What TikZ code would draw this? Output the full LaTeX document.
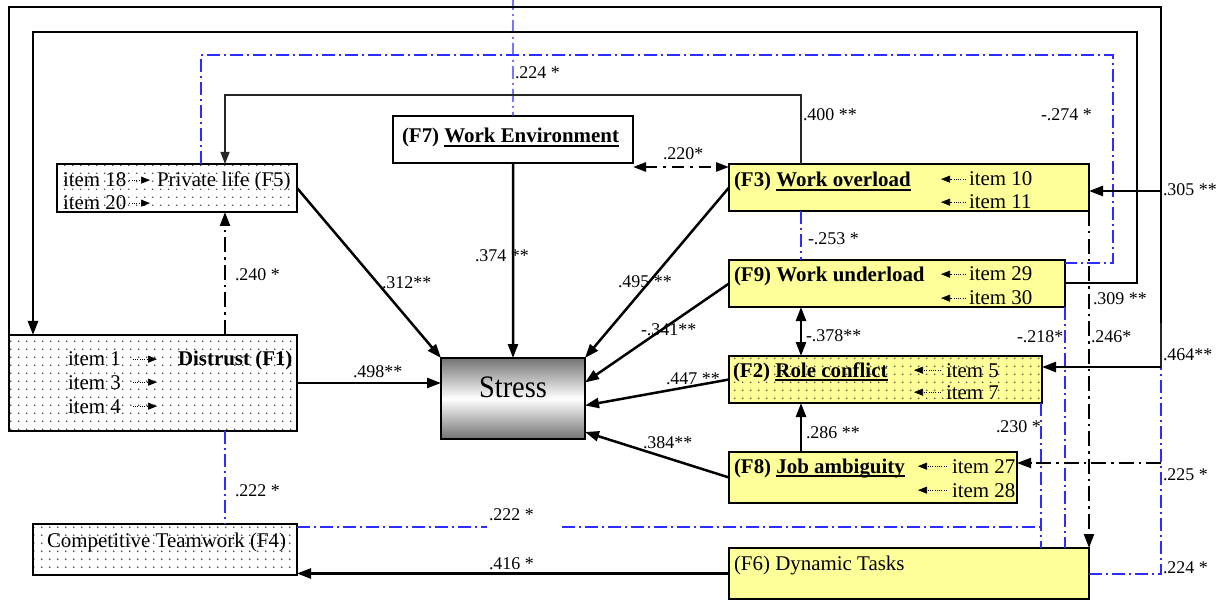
\documentclass[tikz,border=0pt]{standalone}
\usepackage{fontspec}
\usepackage{graphicx}
\setmainfont{Liberation Serif}
\usetikzlibrary{arrows.meta,patterns}
\definecolor{boxyellow}{RGB}{255,255,153}
\definecolor{linkblue}{RGB}{45,45,255}
% sparse dot texture for the shaded factor boxes
\pgfdeclarepatternformonly{sparsedots}{\pgfpointorigin}{\pgfpoint{7.7bp}{7.7bp}}{\pgfpoint{7.7bp}{7.7bp}}{%
  \pgfpathcircle{\pgfpoint{3.85bp}{3.85bp}}{0.85bp}\pgfusepath{fill}}
% underline drawn as a rule a little below the baseline
\newcommand\ulbar[1]{\setbox0\hbox{#1}\rlap{\rule[-4bp]{\wd0}{1.8bp}}\box0}
\tikzset{
  every node/.style={inner sep=0pt, outer sep=0pt},
  box/.style={draw=black, line width=2bp, anchor=north west},
  ybox/.style={box, fill=boxyellow},
  wbox/.style={box, fill=white},
  dotbox/.style={box, pattern=sparsedots, pattern color=black!75},
  ydotbox/.style={box, preaction={fill=boxyellow}, pattern=sparsedots, pattern color=black!75},
  txt/.style={anchor=base west, font=\fontsize{21}{21}\selectfont},
  btxt/.style={anchor=base west, font=\fontsize{21}{21}\selectfont\bfseries},
  lab/.style={anchor=base west, font=\fontsize{18}{18}\selectfont},
  solidlink/.style={draw=black, line width=2.5bp},
  thinlink/.style={draw=black!85, line width=1.1bp},
  blackdd/.style={draw=black, line width=2.2bp, dash pattern=on 15bp off 5bp on 2.5bp off 5bp},
  bluedd/.style={draw=linkblue, line width=1.3bp, dash pattern=on 13bp off 4bp on 2bp off 4bp},
  itemarrow/.style={draw=black, line width=0.7bp, dash pattern=on 1bp off 1.3bp, -{Triangle[length=9bp,width=7bp]}},
  >={Triangle[length=14bp,width=10bp]},
}
\begin{document}
\begin{tikzpicture}[x=1bp,y=-1bp]
\useasboundingbox (0,0) rectangle (1226,602);

% ---- factor boxes ----
\node[dotbox, minimum width=240bp, minimum height=48bp] (f5) at (57,164) {};
\node[dotbox, minimum width=288bp, minimum height=96bp] (f1) at (9,335) {};
\node[dotbox, minimum width=264bp, minimum height=51bp] (f4) at (33,524) {};
\node[wbox, minimum width=240bp, minimum height=47bp] (f7) at (393,116) {};
\node[box, minimum width=144bp, minimum height=81bp, top color=black!55, bottom color=black!55, middle color=white] (stress) at (441,358) {};
\node[ybox, minimum width=360bp, minimum height=47bp] (f3) at (729,164) {};
\node[ybox, minimum width=336bp, minimum height=47bp] (f9) at (729,260) {};
\node[ydotbox, minimum width=313bp, minimum height=47bp] (f2) at (729,356) {};
\node[ybox, minimum width=288bp, minimum height=51bp] (f8) at (729,452) {};
\node[ybox, minimum width=360bp, minimum height=51bp] (f6) at (729,548) {};

% ---- box texts ----
\node[txt] (i18) at (63,187) {item 18};
\node[txt] (p5) at (157,187) {Private life (F5)};
\node[txt] (i20) at (63,210) {item 20};

\node[txt] (i1) at (68,366) {item 1};
\node[btxt] (dist) at (178,366) {Distrust (F1)};
\node[txt] (i3) at (68,389) {item 3};
\node[txt] (i4) at (68,413) {item 4};

\node[txt] (t4) at (47,547) {Competitive Teamwork (F4)};
\node[btxt] (t7) at (402,143) {(F7) \ulbar{Work Environment}};
\node[anchor=base] (stresslbl) at (513,397) {\scalebox{1}[1.1]{\fontsize{28.5}{28.5}\selectfont Stress}};

\node[btxt] (t3) at (734,187) {(F3) \ulbar{Work overload}};
\node[txt] (i10) at (969,186) {item 10};
\node[txt] (i11) at (969,209) {item 11};

\node[btxt] (t9) at (734,282) {(F9) Work underload};
\node[txt] (i29) at (969,281) {item 29};
\node[txt] (i30) at (969,305) {item 30};

\node[btxt] (t2) at (733,377) {(F2) \ulbar{Role conflict}};
\node[txt] (i5) at (946,377) {item 5};
\node[txt] (i7) at (946,399) {item 7};

\node[btxt] (t8) at (734,473) {(F8) \ulbar{Job ambiguity}};
\node[txt] (i27) at (952,473) {item 27};
\node[txt] (i28) at (952,497) {item 28};

\node[txt] (t6) at (734,570) {(F6) Dynamic Tasks};

% ---- indicator arrows ----
\coordinate (k5) at (150,0);
\coordinate (k1) at (157,0);
\coordinate (k3) at (941,0);
\coordinate (k2) at (914,0);
\coordinate (k8) at (918,0);
\draw[itemarrow, shorten <=3bp] (i18.east) -- (i18.east -| k5);
\draw[itemarrow, shorten <=3bp] (i20.east) -- (i20.east -| k5);
\draw[itemarrow, shorten <=12bp] (i1.east) -- (i1.east -| k1);
\draw[itemarrow, shorten <=12bp] (i3.east) -- (i3.east -| k1);
\draw[itemarrow, shorten <=12bp] (i4.east) -- (i4.east -| k1);
\draw[itemarrow, shorten <=3bp] (i10.west) -- (i10.west -| k3);
\draw[itemarrow, shorten <=3bp] (i11.west) -- (i11.west -| k3);
\draw[itemarrow, shorten <=3bp] (i29.west) -- (i29.west -| k3);
\draw[itemarrow, shorten <=3bp] (i30.west) -- (i30.west -| k3);
\draw[itemarrow, shorten <=5bp] (i5.west) -- (i5.west -| k2);
\draw[itemarrow, shorten <=5bp] (i7.west) -- (i7.west -| k2);
\draw[itemarrow, shorten <=5bp] (i27.west) -- (i27.west -| k8);
\draw[itemarrow, shorten <=5bp] (i28.west) -- (i28.west -| k8);

% ---- lane coordinates ----
\coordinate (c801) at (801,95);
\coordinate (c225) at (225,95);
\coordinate (b1) at (201,55);
\coordinate (b2) at (1113,55);
\coordinate (b3) at (1113,263);
\coordinate (b4) at (1161,574);
\coordinate (b5) at (1161,7);
\coordinate (b5a) at (513,7);
\coordinate (b6) at (513,-3);
\coordinate (b7) at (487,527);
\coordinate (b8) at (562,527);
\coordinate (b9) at (1041,527);
\coordinate (o1) at (9,7);
\coordinate (o2) at (1161,7);
\coordinate (o3) at (1161,323);
\coordinate (o4) at (1161,367);
\coordinate (o5) at (1161,191);
\coordinate (s1) at (1137,283);
\coordinate (s2) at (1137,32);
\coordinate (s3) at (33,32);
\coordinate (d1) at (1161,463);
\coordinate (e1) at ([yshift=-4bp]f7.south east);

% ---- correlations (blue dash-dot) ----
\draw[bluedd] (f5.north -| b1) -- (b1) -- (b2) -- (b3) -- (b3 -| f9.east);
\draw[bluedd] (f6.east |- b4) -- (b4) -- (b5) -- (b5a);
\draw[bluedd] (b6) -- (f7.north);
\draw[bluedd] (f3.south -| c801) -- (f9.north -| c801);
\draw[bluedd] (f1.south -| c225) -- (f4.north -| c225);
\draw[bluedd] (f4.east |- b7) -- (b7);
\draw[bluedd] (b8) -- (b9);
\draw[bluedd] (f2.south -| b9) -- (f6.north -| b9);
\draw[bluedd] (f9.south east) -- (f9.south east |- f6.north);

% ---- paths ----
\draw[solidlink] (f1.north west) -- (o1) -- (o2) -- (o3);
\draw[thinlink] (o3) -- (o4);
\draw[solidlink, ->] (o4) -- (o4 -| f2.east);
\draw[solidlink, ->] (o5) -- (o5 -| f3.east);
\draw[solidlink, ->] (f9.east |- s1) -- (s1) -- (s2) -- (s3) -- (f1.north -| s3);
\draw[thinlink, -{Triangle[length=12bp,width=9bp]}] (f3.north -| c801) -- (c801) -- (c225) -- (f5.north -| c225);
\draw[blackdd, ->] (f1.north -| c225) -- (f5.south -| c225);
\draw[blackdd, ->] (f3.south east) -- (f6.north east);
\draw[blackdd, line width=2bp, ->] (d1) -- (d1 -| f8.east);
\draw[blackdd, line width=2.5bp, dash pattern=on 12bp off 6bp on 3bp off 6bp, {Triangle[length=13bp,width=9bp]}-{Triangle[length=13bp,width=9bp]}] (e1) -- (e1 -| f3.west);

\draw[solidlink, ->] (f5.east) -- (stress.north west);
\draw[solidlink, ->] (f1.east) -- (f1.east -| stress.west);
\draw[solidlink, ->] (f7.south) -- (stress.north);
\draw[solidlink, ->] (f3.west) -- (stress.north east);
\draw[solidlink, ->] (f9.west) -- ([yshift=16bp]stress.east);
\draw[solidlink, ->] (f2.west) -- ([yshift=-7bp]stress.east);
\draw[solidlink, ->] (f8.west) -- ([yshift=7bp]stress.south east);
\draw[solidlink, <->] (f9.south -| c801) -- (f2.north -| c801);
\draw[solidlink, ->] (f8.north -| c801) -- (f2.south -| c801);
\draw[solidlink, ->] (f6.west) -- (f6.west -| f4.east);

% ---- coefficients ----
\node[lab] (l1) at (515,79) {.224 *};
\node[lab] (l2) at (803,121) {.400 **};
\node[lab] (l3) at (1041,121) {-.274 *};
\node[lab] (l4) at (1163,196) {.305 **};
\node[lab] (l5) at (663,160) {.220*};
\node[lab] (l6) at (808,245) {-.253 *};
\node[lab] (l7) at (475,262) {.374 **};
\node[lab] (l8) at (382,289) {.312**};
\node[lab] (l9) at (618,288) {.495 **};
\node[lab] (l10) at (235,281) {.240 *};
\node[lab] (l11) at (641,336) {-.341**};
\node[lab] (l12) at (806,342) {-.378**};
\node[lab] (l13) at (1017,343) {-.218*};
\node[lab] (l14) at (1093,305) {.309 **};
\node[lab] (l15) at (1091,343) {.246*};
\node[lab] (l16) at (1163,361) {.464**};
\node[lab] (l17) at (666,384) {.447 **};
\node[lab] (l18) at (353,377) {.498**};
\node[lab] (l19) at (643,448) {.384**};
\node[lab] (l20) at (806,438) {.286 **};
\node[lab] (l21) at (996,432) {.230 *};
\node[lab] (l22) at (1163,480) {.225 *};
\node[lab] (l23) at (235,496) {.222 *};
\node[lab] (l24) at (489,520) {.222 *};
\node[lab] (l25) at (489,569) {.416 *};
\node[lab] (l26) at (1163,573) {.224 *};
\end{tikzpicture}
\end{document}
